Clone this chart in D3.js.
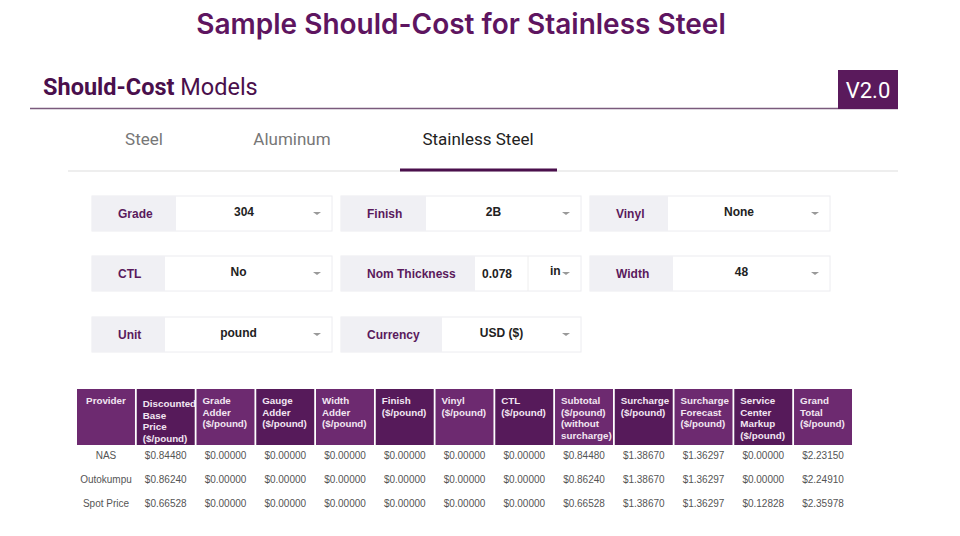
<!DOCTYPE html>
<html><head><meta charset="utf-8">
<script src="https://cdn.jsdelivr.net/npm/d3@7"></script>
<style>body{margin:0;background:#fff;font-family:"Liberation Sans",Arial,sans-serif}</style>
</head><body><svg id="c" width="960" height="536"></svg>
<script>
const tabs = ["Steel","Aluminum","Stainless Steel"];
const columns = ["Provider","Discounted|Base|Price|($/pound)","Grade|Adder|($/pound)","Gauge|Adder|($/pound)","Width|Adder|($/pound)","Finish|($/pound)","Vinyl|($/pound)","CTL|($/pound)","Subtotal|($/pound)|(without|surcharge)","Surcharge|($/pound)","Surcharge|Forecast|($/pound)","Service|Center|Markup|($/pound)","Grand|Total|($/pound)"];
const providers = ["NAS","Outokumpu","Spot Price"];
const baseP = [0.84480,0.86240,0.66528];
const gradeA = [0,0,0], gaugeA=[0,0,0], widthA=[0,0,0], finishA=[0,0,0], vinylA=[0,0,0], ctlA=[0,0,0];
const subtotal = [0.84480,0.86240,0.66528];
const surcharge = [1.38670,1.38670,1.38670];
const forecast = [1.36297,1.36297,1.36297];
const markup = [0,0,0.12828];
const grand = [2.23150,2.24910,2.35978];
const fields = [
 [["Grade","304",84],["Finish","2B",85],["Vinyl","None",78]],
 [["CTL","No",73],["Nom Thickness","0.078",134,"in"],["Width","48",83]],
 [["Unit","pound",73],["Currency","USD ($)",101]]
];

const svg = d3.select("#c");
const P="#5e1560";
svg.append("text").attr("x",461).attr("y",34).attr("text-anchor","middle").attr("font-family","Inter,Roboto,sans-serif")
 .attr("font-size",28).attr("font-weight",600).attr("fill",P).text("Sample Should-Cost for Stainless Steel");
const h=svg.append("text").attr("x",43).attr("y",95).attr("font-family","Roboto,sans-serif").attr("font-size",23.5).attr("fill","#4a0f4c");
h.append("tspan").attr("font-weight",700).text("Should-Cost");
h.append("tspan").text(" Models");
svg.append("line").attr("x1",30).attr("x2",898).attr("y1",108.5).attr("y2",108.5).attr("stroke","#7a5a7c").attr("stroke-width",1.5);
svg.append("rect").attr("x",838).attr("y",70).attr("width",60).attr("height",39).attr("fill","#5a1a5c");
svg.append("text").attr("x",868).attr("y",98).attr("text-anchor","middle").attr("fill","#fff").attr("font-family","Roboto,sans-serif").attr("font-size",22).text("V2.0");
const tx=[144,292,478];
tabs.forEach((t,i)=>svg.append("text").attr("x",tx[i]).attr("y",145).attr("text-anchor","middle").attr("font-family","Roboto,sans-serif").attr("font-size",17).attr("fill",i==2?"#222":"#777").text(t));
svg.append("line").attr("x1",68).attr("x2",898).attr("y1",171).attr("y2",171).attr("stroke","#eee").attr("stroke-width",2);
svg.append("line").attr("x1",400).attr("x2",557).attr("y1",170).attr("y2",170).attr("stroke","#4a0f4c").attr("stroke-width",3);
const fx=[92,341,590], fy=[196,256,317], fw=240, fh=35;
fields.forEach((row,r)=>row.forEach((f,c)=>{
 const x=fx[c], y=fy[r];
 svg.append("rect").attr("x",x).attr("y",y).attr("width",fw).attr("height",fh).attr("fill","#fff").attr("stroke","#ececf0");
 svg.append("rect").attr("x",x).attr("y",y).attr("width",f[2]).attr("height",fh).attr("fill","#f0f0f4");
 svg.append("text").attr("x",x+26).attr("y",y+22).attr("font-size",12).attr("font-weight",700).attr("fill","#5a1a5c").text(f[0]);
 if(f[3]){
  svg.append("text").attr("x",x+f[2]+7).attr("y",y+22).attr("font-size",12).attr("font-weight",700).attr("fill","#222").text(f[1]);
  svg.append("line").attr("x1",x+187).attr("x2",x+187).attr("y1",y).attr("y2",y+fh).attr("stroke","#eee");
  svg.append("text").attr("x",x+209).attr("y",y+19).attr("font-size",12).attr("font-weight",700).attr("fill","#222").text(f[3]);
 } else {
  svg.append("text").attr("x",x+f[2]+(fw-f[2]-30)/2+5).attr("y",y+20).attr("text-anchor","middle").attr("font-size",12).attr("font-weight",700).attr("fill","#222").text(f[1]);
 }
 svg.append("path").attr("d",`M${x+fw-19},${y+16}l4,3l4,-3z`).attr("fill","#999");
}));
const xs=d3.scaleBand().domain(columns).range([77,852]).paddingInner(0.03);
const rows=providers.map((p,i)=>[p,baseP[i],gradeA[i],gaugeA[i],widthA[i],finishA[i],vinylA[i],ctlA[i],subtotal[i],surcharge[i],forecast[i],markup[i],grand[i]]);
const ys=d3.scalePoint().domain(providers).range([456,504]);
const dark=new Set([1,3,5,7,9,11]);
columns.forEach((c,i)=>{
 const x=xs(c);
 svg.append("rect").attr("x",x).attr("y",389).attr("width",xs.bandwidth()).attr("height",56).attr("fill",dark.has(i)?"#561a5a":"#6d2a70");
 const t=svg.append("text").attr("x",i==0?x+xs.bandwidth()/2:x+6).attr("y",404).attr("text-anchor",i==0?"middle":"start").attr("font-size",9.8).attr("font-weight",700).attr("fill","#f2e6f2");
 c.split("|").forEach((l,k)=>t.append("tspan").attr("x",i==0?x+xs.bandwidth()/2:x+6).attr("dy",k?11.5:(i==1?3:0)).text(l));
});
rows.forEach(r=>r.forEach((v,i)=>{
 svg.append("text").attr("x",xs(columns[i])+xs.bandwidth()/2).attr("y",ys(r[0])+3).attr("text-anchor","middle").attr("font-size",10).attr("fill","#555")
  .text(i==0?v:"$"+v.toFixed(5));
}));
</script></body></html>
